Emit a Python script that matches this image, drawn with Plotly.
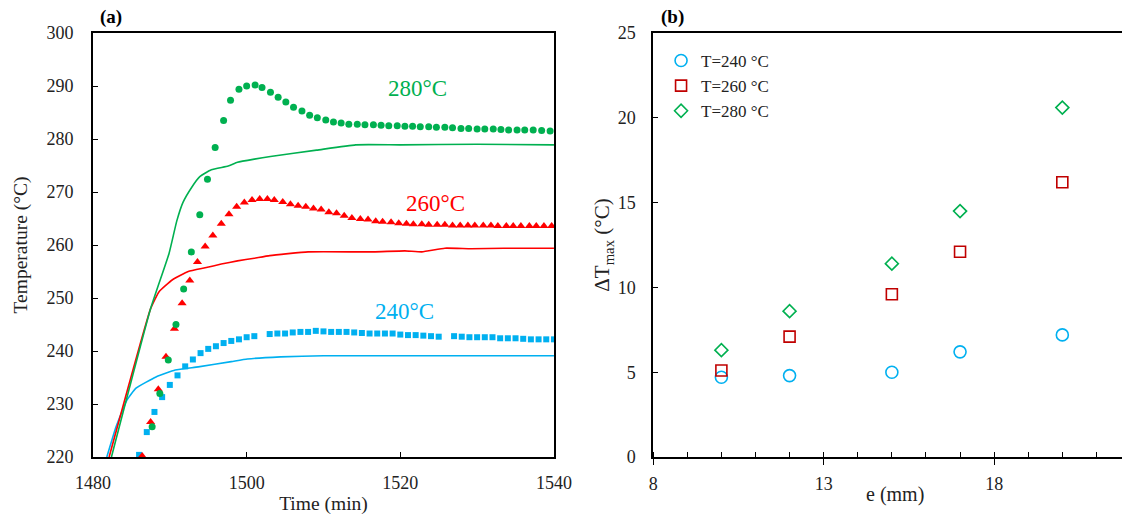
import plotly.graph_objects as go

# ---------------- Panel (a) data ----------------
sim240_t = [1481.8, 1483.0, 1484.4, 1485.6, 1488.2, 1490.7, 1493.7, 1498.0, 1500.1, 1504.4, 1510.0, 1520.0, 1530.0, 1540.0]
sim240_T = [220.0, 225.7, 230.7, 233.0, 235.1, 236.4, 237.0, 238.0, 238.5, 238.9, 239.1, 239.1, 239.1, 239.1]

sim260_t = [1482.1, 1487.5, 1488.6, 1490.3, 1492.4, 1494.6, 1496.7, 1498.8, 1501.0, 1503.0, 1508.0, 1516.5, 1520.6, 1522.8, 1525.8, 1529.2, 1533.5, 1540.0]
sim260_T = [220.0, 248.0, 251.2, 253.4, 255.0, 255.7, 256.4, 257.0, 257.5, 258.0, 258.7, 258.7, 258.9, 258.7, 259.4, 259.3, 259.4, 259.4]

sim280_t = [1482.4, 1487.5, 1489.9, 1490.9, 1491.7, 1492.9, 1493.9, 1495.4, 1497.6, 1498.8, 1501.0, 1503.1, 1509.1, 1514.2, 1520.0, 1530.0, 1540.0]
sim280_T = [220.0, 248.0, 258.4, 264.5, 268.0, 271.0, 272.9, 274.2, 274.9, 275.6, 276.2, 276.7, 277.9, 278.9, 278.9, 279.0, 278.9]

exp240_t = [1486, 1487, 1488, 1489, 1490, 1491, 1492, 1493, 1494, 1495, 1496, 1497, 1498, 1499, 1500, 1501,
            1503, 1504, 1505, 1506, 1507, 1508, 1509, 1510, 1511, 1512, 1513, 1514, 1515, 1516, 1517, 1518,
            1519, 1520, 1521, 1522, 1523, 1524, 1525, 1527, 1528, 1529, 1530, 1531, 1532, 1533, 1534, 1535,
            1536, 1537, 1538, 1539, 1540]
exp240_T = [220.4, 224.7, 228.5, 231.3, 233.6, 235.4, 237.1, 238.4, 239.6, 240.4, 240.9, 241.5, 241.9, 242.2, 242.6, 242.8,
            243.2, 243.3, 243.3, 243.5, 243.6, 243.6, 243.8, 243.7, 243.6, 243.6, 243.6, 243.5, 243.4, 243.3, 243.3, 243.3,
            243.3, 243.1, 243.0, 243.0, 242.9, 242.8, 242.7, 242.8, 242.7, 242.6, 242.6, 242.6, 242.6, 242.4, 242.4, 242.4,
            242.3, 242.2, 242.2, 242.2, 242.2]

exp260_t = [1486.4, 1487.5, 1488.5, 1489.5, 1490.6, 1491.6, 1492.6, 1493.6, 1494.6, 1495.6, 1496.7, 1497.7, 1498.7, 1499.7, 1500.7, 1501.7, 1502.7, 1503.6,
            1504.7, 1505.7, 1506.7, 1507.7, 1508.7, 1509.7, 1510.7, 1511.7, 1512.7, 1513.7, 1514.8, 1515.8, 1516.8, 1517.7, 1518.8, 1519.8, 1520.8, 1521.7,
            1522.8, 1523.7, 1524.8, 1525.8, 1526.8, 1527.8, 1528.8, 1529.7, 1530.8, 1531.8, 1532.7, 1533.8, 1534.7, 1535.7, 1536.8, 1537.7, 1538.7, 1539.7]
exp260_T = [220.2, 226.6, 232.8, 238.9, 244.2, 249.0, 253.3, 256.8, 259.7, 261.8, 264.0, 265.8, 267.2, 268.0, 268.5, 268.7, 268.7, 268.5,
            268.1, 267.7, 267.4, 267.2, 266.9, 266.7, 266.2, 266.0, 265.5, 265.1, 264.9, 264.8, 264.5, 264.4, 264.3, 264.1, 264.0, 263.9,
            263.9, 263.8, 263.8, 263.8, 263.7, 263.7, 263.7, 263.7, 263.7, 263.7, 263.6, 263.6, 263.6, 263.6, 263.6, 263.6, 263.6, 263.6]

exp280_t = [1487.7, 1488.7, 1489.8, 1490.8, 1491.8, 1492.8, 1493.9, 1494.9, 1495.9, 1497.0, 1497.9, 1499.0, 1500.0, 1501.1, 1502.0, 1503.1,
            1504.1, 1505.1, 1506.1, 1507.2, 1508.2, 1509.2, 1510.3, 1511.3, 1512.3, 1513.3, 1514.4, 1515.4, 1516.5, 1517.5, 1518.5, 1519.6,
            1520.6, 1521.6, 1522.6, 1523.7, 1524.7, 1525.8, 1526.8, 1527.9, 1528.9, 1530.0, 1531.0, 1532.1, 1533.1, 1534.1, 1535.2, 1536.2,
            1537.3, 1538.4, 1539.5]
exp280_T = [225.7, 232.0, 238.3, 245.0, 251.7, 258.7, 265.7, 272.4, 278.4, 283.5, 287.3, 289.4, 290.0, 290.2, 289.7, 288.8,
            287.9, 287.0, 286.0, 285.3, 284.5, 284.0, 283.6, 283.2, 283.0, 282.8, 282.8, 282.7, 282.7, 282.6, 282.5, 282.5,
            282.4, 282.4, 282.3, 282.3, 282.2, 282.2, 282.1, 282.0, 282.0, 281.9, 281.9, 281.9, 281.8, 281.7, 281.7, 281.7,
            281.7, 281.6, 281.5]

# ---------------- Panel (b) data ----------------
e_mm = [10, 12, 15, 17, 20]
dT_240 = [4.7, 4.8, 5.0, 6.2, 7.2]
dT_260 = [5.1, 7.1, 9.6, 12.1, 16.2]
dT_280 = [6.3, 8.6, 11.4, 14.5, 20.6]

BLUE = "#00B0F0"
RED = "#FF0000"
GREEN = "#00B050"
DRED = "#C00000"
FONT = "Liberation Serif"

fig = go.Figure()

for t, T, c in [(sim240_t, sim240_T, BLUE), (sim260_t, sim260_T, RED), (sim280_t, sim280_T, GREEN)]:
    fig.add_trace(go.Scatter(x=t, y=T, mode="lines", line=dict(color=c, width=1.6, shape="spline", smoothing=0.4),
                             showlegend=False, xaxis="x", yaxis="y"))
fig.add_trace(go.Scatter(x=exp240_t, y=exp240_T, mode="markers",
                         marker=dict(symbol="square", size=6, color=BLUE),
                         showlegend=False, xaxis="x", yaxis="y"))
fig.add_trace(go.Scatter(x=exp260_t, y=exp260_T, mode="markers",
                         marker=dict(symbol="triangle-up", size=8, color=RED),
                         showlegend=False, xaxis="x", yaxis="y"))
fig.add_trace(go.Scatter(x=exp280_t, y=exp280_T, mode="markers",
                         marker=dict(symbol="circle", size=7, color=GREEN),
                         showlegend=False, xaxis="x", yaxis="y"))

fig.add_trace(go.Scatter(x=e_mm, y=dT_240, mode="markers", name="T=240 °C", legendgroup="a",
                         marker=dict(symbol="circle-open", size=12, color=BLUE, line=dict(width=1.6)),
                         xaxis="x2", yaxis="y2"))
fig.add_trace(go.Scatter(x=e_mm, y=dT_260, mode="markers", name="T=260 °C", legendgroup="b",
                         marker=dict(symbol="square-open", size=11, color=DRED, line=dict(width=1.6)),
                         xaxis="x2", yaxis="y2"))
fig.add_trace(go.Scatter(x=e_mm, y=dT_280, mode="markers", name="T=280 °C", legendgroup="c",
                         marker=dict(symbol="diamond-open", size=10, color=GREEN, line=dict(width=1.6)),
                         xaxis="x2", yaxis="y2"))

W, H = 1140, 520
L, R, T_, B = 93, 0, 33, 63
pw = W - L - R
ph = H - T_ - B
dA = [0, (562 - L) / pw]
dB = [(663 - L) / pw, 1.0]

def px_x(x):
    return (x - L) / pw

def px_y(y):
    return (H - B - y) / ph

axis_common = dict(showgrid=False, zeroline=False, showline=True, linecolor="black", linewidth=1.6,
                   tickfont=dict(family=FONT, size=18, color="#222"), ticks="inside", tickcolor="black",
                   ticklen=5, tickwidth=1.3)

fig.update_layout(
    width=W, height=H, autosize=False, margin=dict(l=L, r=R, t=T_, b=B),
    paper_bgcolor="white", plot_bgcolor="white",
    font=dict(family=FONT, color="#222"),
    xaxis=dict(axis_common, domain=dA, range=[1480, 1540], tickvals=[1480, 1500, 1520, 1540],
               mirror=True, ticklabelstandoff=9,
               title=dict(text="Time (min)", font=dict(family=FONT, size=19.5), standoff=4)),
    yaxis=dict(axis_common, domain=[0, 1], range=[220, 300], dtick=10, mirror=True, anchor="x",
               ticklabelstandoff=14,
               title=dict(text="Temperature (°C)", font=dict(family=FONT, size=19.5), standoff=14)),
    xaxis2=dict(axis_common, domain=dB, range=[8, 21.75], tick0=8, dtick=5, anchor="y2",
                ticks="outside", ticklen=6, mirror=True, ticklabelstandoff=4,
                minor=dict(dtick=1, ticks="inside", ticklen=5, tickcolor="black", tickwidth=1.2)),
    yaxis2=dict(axis_common, domain=[0, 1], range=[0, 25], dtick=5, anchor="x2",
                ticklabelstandoff=12,
                title=dict(text="ΔT<sub>max</sub> (°C)", font=dict(family=FONT, size=21), standoff=2)),
    legend=dict(x=px_x(671), y=px_y(43), xanchor="left", yanchor="top", bgcolor="rgba(0,0,0,0)",
                font=dict(family=FONT, size=17, color="#222"), tracegroupgap=0),
    showlegend=True,
)

annots = [
    dict(x=1522.3, y=289.6, xref="x", yref="y", text="280°C", font=dict(family=FONT, size=23, color=GREEN)),
    dict(x=1524.6, y=267.9, xref="x", yref="y", text="260°C", font=dict(family=FONT, size=23, color=RED)),
    dict(x=1520.6, y=247.4, xref="x", yref="y", text="240°C", font=dict(family=FONT, size=23, color=BLUE)),
    dict(x=px_x(111.5), y=px_y(17), xref="paper", yref="paper", text="<b>(a)</b>",
         font=dict(family=FONT, size=19, color="black")),
    dict(x=px_x(683), y=px_y(17), xref="paper", yref="paper", text="<b>(b)</b>",
         font=dict(family=FONT, size=19, color="black")),
    dict(x=px_x(909), y=px_y(495), xref="paper", yref="paper", text="e (mm)",
         font=dict(family=FONT, size=20, color="#222")),
]
for a in annots:
    a.setdefault("showarrow", False)
    a.setdefault("xanchor", "center")
    a.setdefault("yanchor", "middle")
    fig.add_annotation(**a)

post = ("document.documentElement.style.margin='0';document.body.style.margin='0';"
        "document.body.style.padding='0';document.body.style.overflow='hidden';"
        "document.documentElement.style.overflow='hidden';")

fig.write_html("out.html", config={"responsive": False, "displayModeBar": False}, post_script=post)
